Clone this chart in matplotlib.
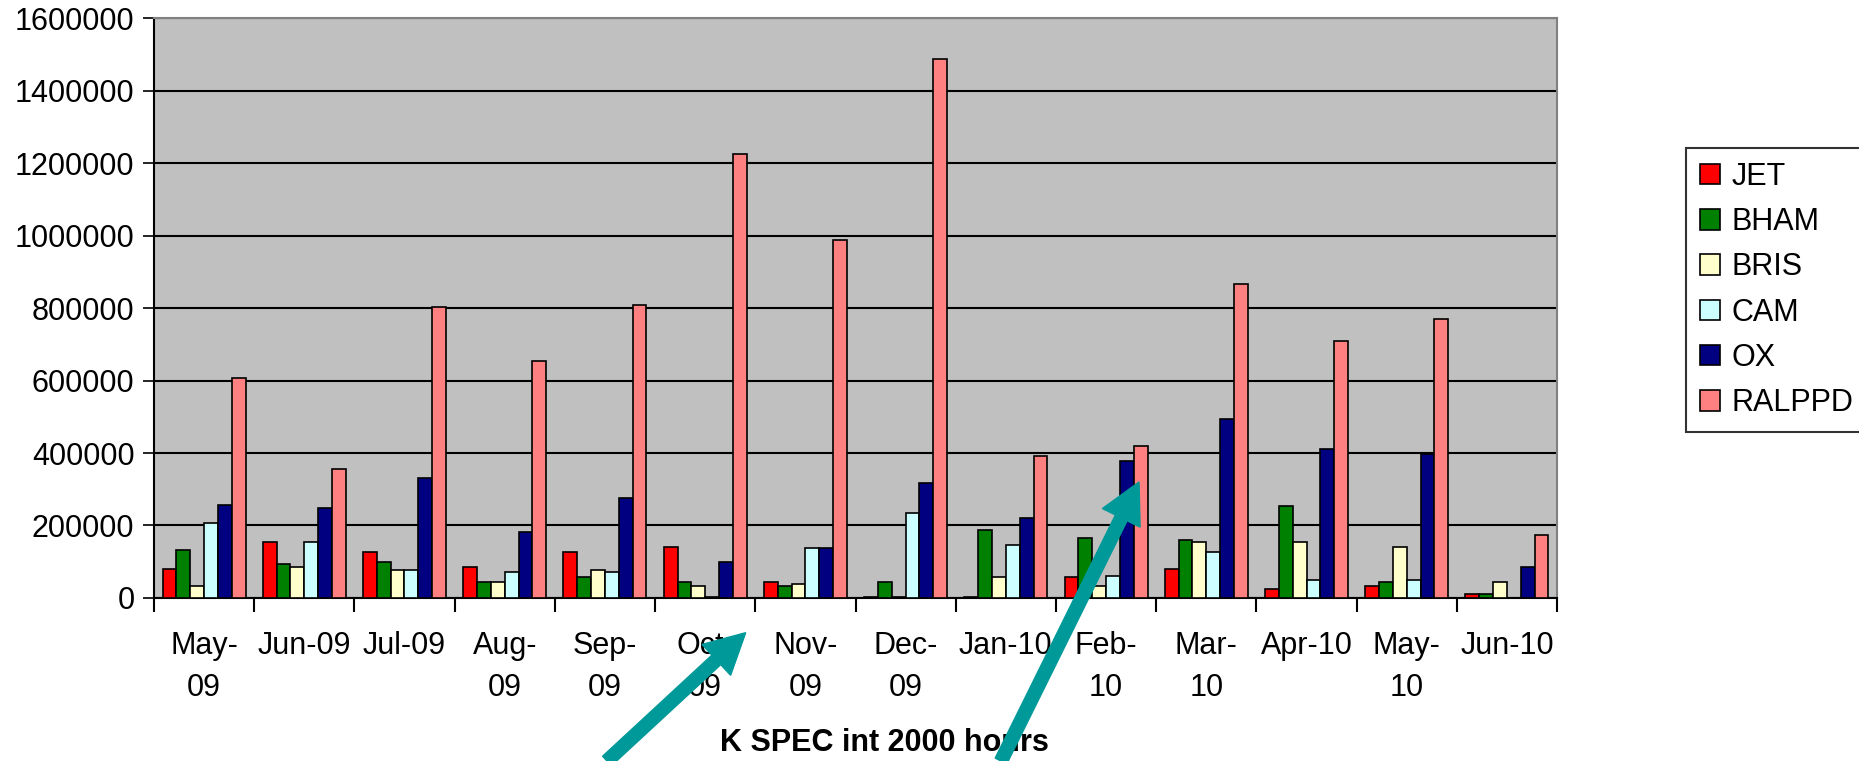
import numpy as np
import matplotlib.pyplot as plt
from matplotlib.patches import FancyArrow
from matplotlib.ticker import FuncFormatter

plt.rcParams['font.family'] = ['Liberation Sans', 'DejaVu Sans']

# monthly usage per site
months = ['May-\n09', 'Jun-09', 'Jul-09', 'Aug-\n09', 'Sep-\n09', 'Oct-\n09', 'Nov-\n09',
          'Dec-\n09', 'Jan-10', 'Feb-\n10', 'Mar-\n10', 'Apr-10', 'May-\n10', 'Jun-10']
jet    = [81000, 154000, 127000, 85000, 127000, 140000, 45000, 3000, 4000, 57000, 79000, 25000, 33000, 11000]
bham   = [133000, 94000, 99000, 45000, 58000, 45000, 33000, 45000, 187000, 166000, 161000, 255000, 45000, 11000]
bris   = [33000, 86000, 78000, 45000, 78000, 33000, 38000, 3000, 57000, 32000, 154000, 154000, 140000, 45000]
cam    = [206000, 154000, 78000, 72000, 72000, 4000, 139000, 234000, 147000, 60000, 127000, 51000, 51000, 0]
ox     = [256000, 249000, 330000, 181000, 275000, 100000, 139000, 316000, 222000, 378000, 493000, 412000, 398000, 86000]
ralppd = [606000, 356000, 803000, 653000, 808000, 1224000, 987000, 1487000, 391000, 418000, 865000, 710000, 770000, 174000]

series = [('JET', jet, '#FF0000'), ('BHAM', bham, '#008000'), ('BRIS', bris, '#FFFFCC'),
          ('CAM', cam, '#CCFFFF'), ('OX', ox, '#000080'), ('RALPPD', ralppd, '#FF8080')]

fig = plt.figure(figsize=(18.59, 7.61), dpi=100)
ax = fig.add_axes([0.0828, 0.2142, 0.7548, 0.7621])
ax.set_facecolor('#C0C0C0')

x = np.arange(len(months))
w = 0.138
for i, (name, vals, col) in enumerate(series):
    ax.bar(x + (i - 2.5) * w, vals, w, color=col, edgecolor='black', linewidth=1.2,
           label=name, zorder=3)

ax.set_xlim(-0.5, len(months) - 0.5)
ax.set_ylim(0, 1600000)
ax.set_yticks(np.arange(0, 1600001, 200000))
ax.yaxis.set_major_formatter(FuncFormatter(lambda v, p: '%d' % v))
ax.yaxis.grid(True, color='black', linewidth=1.5, zorder=1)
ax.tick_params(axis='y', labelsize=22, length=8, width=1.2, direction='out', pad=6)

# category labels centred, ticks at the boundaries
ax.set_xticks(x)
ax.set_xticklabels(months, fontsize=22)
for t in ax.get_xticklabels():
    t.set_linespacing(1.5)
ax.tick_params(axis='x', length=0, pad=24)
ax.set_xticks(np.arange(-0.5, len(months)), minor=True)
ax.tick_params(axis='x', which='minor', length=10, width=1.5, direction='out')

for s in ['left', 'bottom']:
    ax.spines[s].set_linewidth(1.5)
for s in ['top', 'right']:
    ax.spines[s].set_color('#808080')
    ax.spines[s].set_linewidth(1.5)

fig.text(0.4755, 0.0237, 'K SPEC int 2000 hours', fontsize=22, fontweight='bold',
         ha='center', va='center')

leg = fig.legend(loc='upper left', bbox_to_anchor=(0.907, 0.8055), fontsize=22,
                 frameon=True, fancybox=False, edgecolor='black', handlelength=0.65,
                 handleheight=0.65, handletextpad=0.4, labelspacing=0.5,
                 borderpad=0.45, borderaxespad=0)
leg.get_frame().set_linewidth(1.5)

# arrows drawn over the chart, positions in inches from the lower-left corner
arrows = [((6.07, 0.0), (7.457, 1.283)), ((10.01, 0.0), (11.39, 2.79))]
for tail, head in arrows:
    fig.add_artist(FancyArrow(
        tail[0], tail[1], head[0] - tail[0], head[1] - tail[1],
        width=0.13, head_width=0.42, head_length=0.40,
        length_includes_head=True, color='#009999',
        transform=fig.dpi_scale_trans, zorder=10))

fig.savefig('out.png', dpi=100)
